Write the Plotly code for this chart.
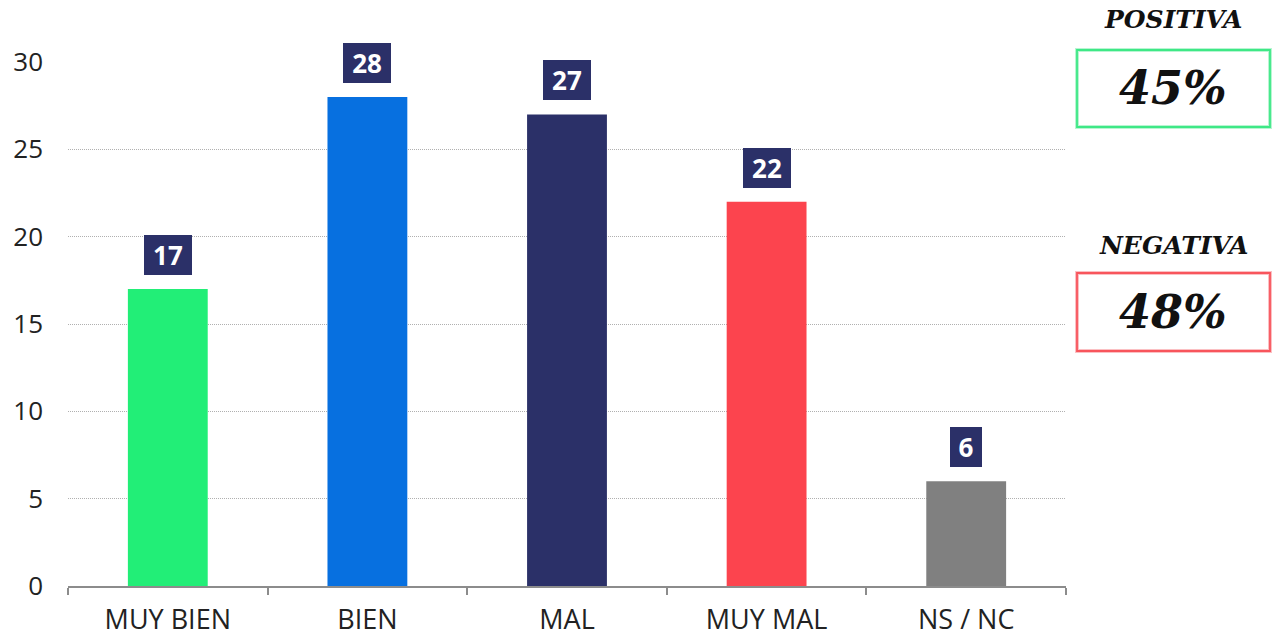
import plotly.graph_objects as go

categories = ["MUY BIEN", "BIEN", "MAL", "MUY MAL", "NS / NC"]
values = [17, 28, 27, 22, 6]
bar_colors = ["#22ee77", "#0770e0", "#2b3068", "#fc444e", "#808080"]
y_ticks = [0, 5, 10, 15, 20, 25, 30]

summary_titles = ["POSITIVA", "NEGATIVA"]
summary_values = ["45%", "48%"]
summary_colors = ["#3ee886", "#f8555c"]
summary_glow = ["#b8f5d2", "#fbc0c3"]

L, R, T, B = 68, 206, 62, 50
W, H = 1272, 636
plot_w, plot_h = W - L - R, H - T - B


def px_x(px):
    return (px - L) / plot_w


def px_y(py):
    return (H - B - py) / plot_h


fig = go.Figure()
fig.add_trace(go.Bar(
    x=categories,
    y=values,
    marker=dict(color=bar_colors, line=dict(width=0)),
    width=0.4,
    hoverinfo="skip",
    cliponaxis=False,
))

annotations = []
for cat, v in zip(categories, values):
    txt = str(v)
    annotations.append(dict(
        x=cat, y=v, xref="x", yref="y",
        text=f"<b>{txt}</b>",
        showarrow=False,
        yanchor="bottom",
        yshift=14,
        font=dict(family="Open Sans", size=26, color="white"),
        bgcolor="#2b3068",
        width=16 * len(txt),
        height=24,
        borderpad=8,
        borderwidth=0,
    ))

shapes = []
box_tops = [50, 273]
box_bottoms = [127, 351]
title_y = [20, 245]
for i in range(2):
    x0, x1 = px_x(1077), px_x(1270)
    y0, y1 = px_y(box_bottoms[i]), px_y(box_tops[i])
    shapes.append(dict(type="rect", xref="paper", yref="paper",
                       x0=x0, x1=x1, y0=y0, y1=y1,
                       line=dict(color=summary_glow[i], width=4),
                       fillcolor="white", layer="above"))
    shapes.append(dict(type="rect", xref="paper", yref="paper",
                       x0=x0, x1=x1, y0=y0, y1=y1,
                       line=dict(color=summary_colors[i], width=1.8),
                       fillcolor="rgba(0,0,0,0)", layer="above"))
    annotations.append(dict(
        x=px_x(1173), y=px_y(title_y[i]), xref="paper", yref="paper",
        text=summary_titles[i], showarrow=False,
        xanchor="center", yanchor="middle",
        font=dict(family="DejaVu Serif", size=25, color="#111111",
                  style="italic", weight="bold"),
    ))
    annotations.append(dict(
        x=px_x(1173), y=px_y((box_tops[i] + box_bottoms[i]) / 2), xref="paper", yref="paper",
        text=summary_values[i], showarrow=False,
        xanchor="center", yanchor="middle",
        font=dict(family="DejaVu Serif", size=46, color="#111111",
                  style="italic", weight="bold"),
    ))

fig.update_layout(
    width=W, height=H,
    margin=dict(l=L, r=R, t=T, b=B, pad=0, autoexpand=False),
    paper_bgcolor="white",
    plot_bgcolor="white",
    showlegend=False,
    bargap=0.6,
    annotations=annotations,
    shapes=shapes,
    font=dict(family="Open Sans", color="#222222"),
)
fig.update_xaxes(
    automargin=False,
    showline=True, linecolor="#8c8c8c", linewidth=2,
    ticks="outside", tickson="boundaries", ticklen=7, tickcolor="#8c8c8c", tickwidth=2,
    showgrid=False,
    tickfont=dict(family="Open Sans", size=27, color="#222222"),
    ticklabelstandoff=9,
)
fig.update_yaxes(
    automargin=False,
    range=[0, 30],
    tickvals=y_ticks,
    showgrid=True, gridcolor="#b0b0b0", gridwidth=1, griddash="1px,1px",
    zeroline=False, showline=False, ticks="",
    tickfont=dict(family="Open Sans", size=26, color="#222222"),
    ticklabelstandoff=24,
)

fig.write_html("out.html")
